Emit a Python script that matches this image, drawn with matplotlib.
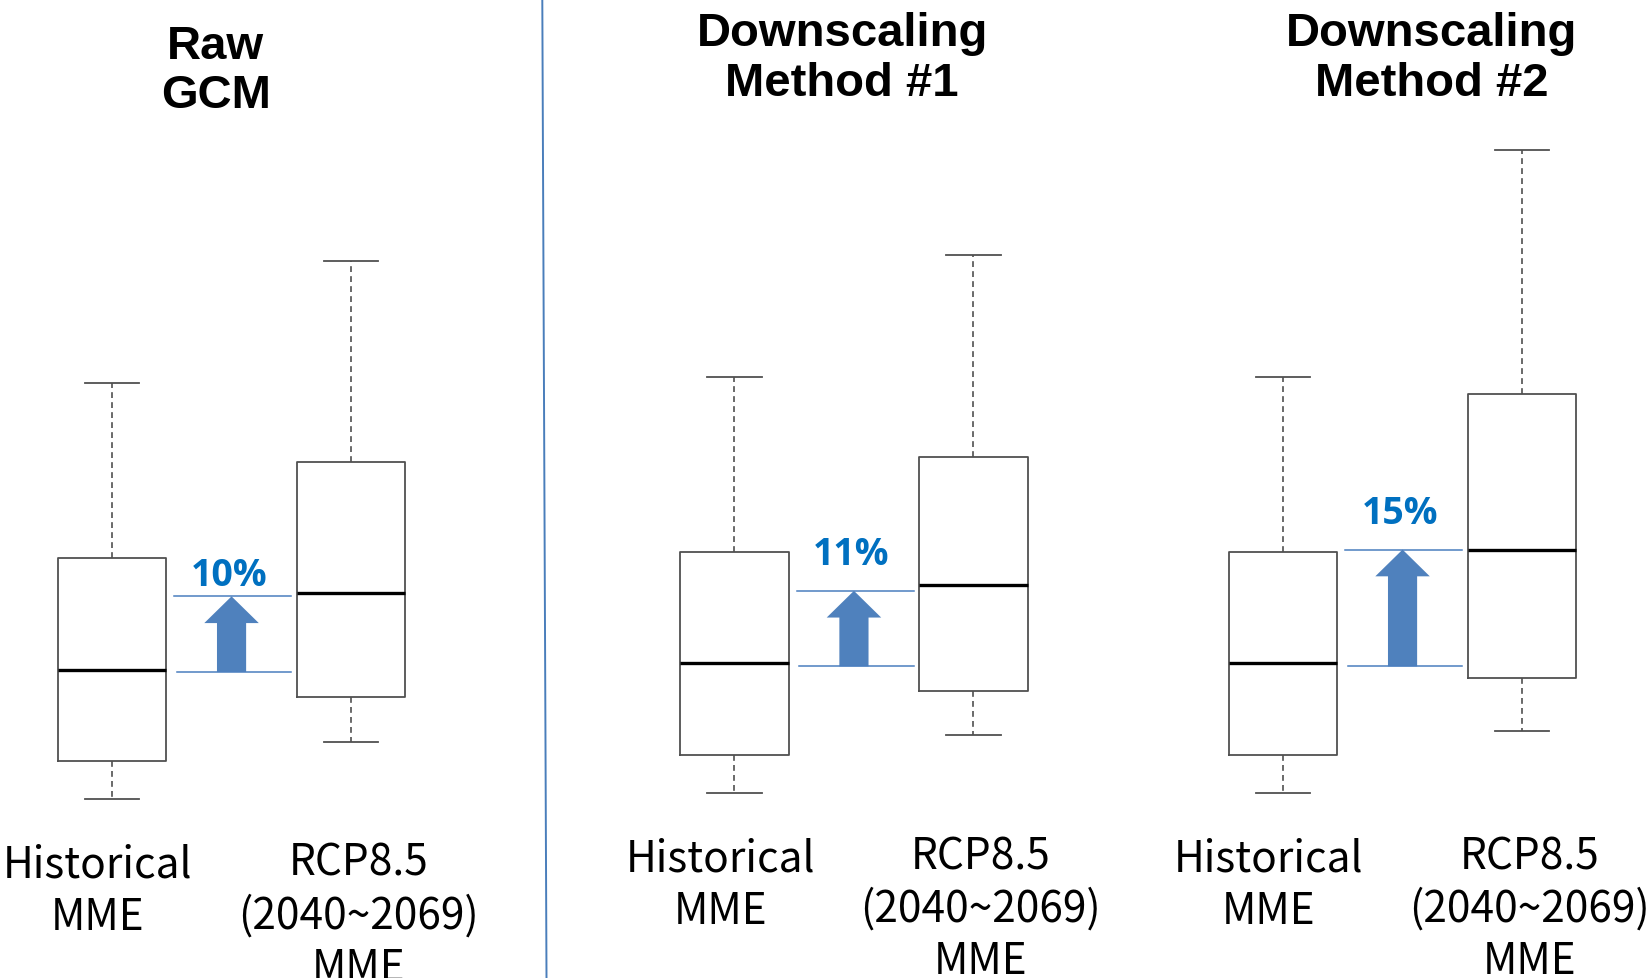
import matplotlib
matplotlib.use("Agg")
import matplotlib.pyplot as plt
from matplotlib.patches import FancyArrow
from matplotlib.lines import Line2D

# ── Data (arbitrary units, historical median = 100) ───────────────────────────
panel_titles = ["Raw\nGCM", "Downscaling\nMethod #1", "Downscaling\nMethod #2"]
box_labels = ["Historical\nMME", "RCP8.5\n(2040~2069)\nMME"]
change_labels = ["10%", "11%", "15%"]

hist_stats = dict(whislo=83.0, q1=88.0, med=100.0, q3=114.6, whishi=137.5)
rcp_whislo = [90.5, 90.6, 91.2]
rcp_q1     = [96.4, 96.4, 98.1]
rcp_med    = [110.1, 110.2, 114.9]
rcp_q3     = [127.2, 127.0, 135.3]
rcp_whishi = [153.5, 153.5, 167.3]

# levels of the thin blue guide lines around each arrow
guide_lo = [99.7, 99.6, 99.6]
guide_hi = [109.6, 109.5, 114.9]

# ── Figure setup ──────────────────────────────────────────────────────────────
W, H = 1651, 979
fig = plt.figure(figsize=(W / 100, H / 100), dpi=100)

grey = "#505050"
blue_line = "#4a7ebf"
arrow_col = "#4f81bd"
pct_col = "#0070c0"
label_font = ["Noto Sans CJK KR", "DejaVu Sans"]

# axes placement in pixels
ax_left_px = [4.5, 626.9, 1175.5]
ax_top_px = [98.1, 91.8, 91.8]
ax_bot_px = [861.5, 855.2, 855.2]
ax_w_px = 454.1
title_x_px = [215.8, 842.3, 1432.0]
title_base_px = [108.5, 95.8, 95.8]   # baseline of the last title line
pct_offset = [1.5, 12.5, 12.5]        # points above the upper guide line

for i in range(3):
    ax = fig.add_axes([ax_left_px[i] / W, 1 - ax_bot_px[i] / H,
                       ax_w_px / W, (ax_bot_px[i] - ax_top_px[i]) / H])
    rcp_stats = dict(whislo=rcp_whislo[i], q1=rcp_q1[i], med=rcp_med[i],
                     q3=rcp_q3[i], whishi=rcp_whishi[i])
    ax.bxp([hist_stats, rcp_stats], positions=[1, 2], widths=0.454,
           capwidths=0.229, showfliers=False,
           boxprops=dict(color=grey, linewidth=1.3),
           whiskerprops=dict(color=grey, linewidth=1.2, linestyle=(0, (3.5, 2.5))),
           capprops=dict(color=grey, linewidth=1.3),
           medianprops=dict(color="black", linewidth=2.4))
    ax.set_xlim(0.55, 2.45)
    ax.set_ylim(75, 175)
    ax.axis("off")

    # guide lines and arrow
    lo, hi = guide_lo[i], guide_hi[i]
    ax.plot([1.27, 1.75], [lo, lo], color=blue_line, lw=1.1)
    ax.plot([1.26, 1.75], [hi, hi], color=blue_line, lw=1.1)
    ax.add_patch(FancyArrow(1.5, lo, 0, hi - lo, width=0.122, head_width=0.228,
                            head_length=3.5, length_includes_head=True,
                            color=arrow_col, lw=0))
    ax.annotate(change_labels[i], xy=(1.49, hi), xytext=(0, pct_offset[i]),
                textcoords="offset points", ha="center", va="bottom",
                fontsize=27, fontweight="bold", color=pct_col,
                family="Open Sans")

    # category labels under the boxes (baseline of last line)
    for x, lab in zip([0.94, 2.03], box_labels):
        n = lab.count("\n")
        ax.text(x, 72.6 - 6.6 * n, lab, ha="center", va="baseline", fontsize=30.5,
                family=label_font, linespacing=1.25, clip_on=False)

    fig.text(title_x_px[i] / W, 1 - title_base_px[i] / H, panel_titles[i],
             ha="center", va="baseline", fontsize=34, fontweight="bold",
             family="Liberation Sans", linespacing=1.17)

# divider between raw and downscaled panels
fig.add_artist(Line2D([542.3 / W, 546.5 / W], [1, 0], color="#4a7ebb", lw=1.4))

fig.savefig("out.png", dpi=100, facecolor="white")
